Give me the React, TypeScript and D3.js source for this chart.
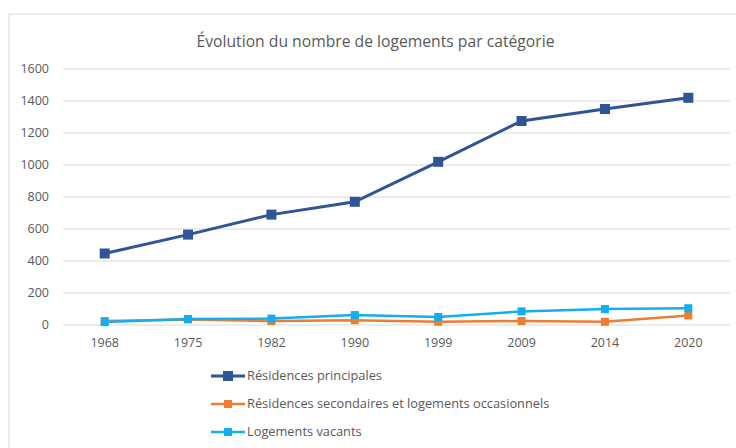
import React from "react";
import * as d3 from "d3";

const years = ["1968", "1975", "1982", "1990", "1999", "2009", "2014", "2020"];
const principales = [447, 565, 690, 770, 1020, 1275, 1350, 1420];
const secondaires = [25, 35, 25, 30, 20, 25, 20, 60];
const vacants = [18, 38, 40, 62, 50, 85, 100, 105];
const yTicks = [0, 200, 400, 600, 800, 1000, 1200, 1400, 1600];

const series = [
  { name: "Résidences principales", values: principales, color: "#2F5597", width: 3, marker: 10 },
  { name: "Résidences secondaires et logements occasionnels", values: secondaires, color: "#ED7D31", width: 2.5, marker: 8 },
  { name: "Logements vacants", values: vacants, color: "#12AEEF", width: 2.5, marker: 8 },
];

const W = 736,
  H = 448;
const font = "'Open Sans', 'Noto Sans', sans-serif";

export default function App() {
  const x = d3.scaleBand().domain(years).range([63, 730]);
  const y = d3.scaleLinear().domain([0, 1600]).range([325, 69]);
  const line = d3
    .line<number>()
    .x((_, i) => x(years[i])! + x.bandwidth() / 2)
    .y((d) => y(d));

  return (
    <svg
      width={W}
      height={H}
      style={{ position: "absolute", left: 0, top: 0, background: "#fff" }}
    >
      <rect x={9} y={14} width={760} height={460} fill="#fff" stroke="#D9D9D9" />
      <text
        x={375.5}
        y={47}
        textAnchor="middle"
        fontFamily={font}
        fontSize={15.7}
        fill="#595959"
      >
        Évolution du nombre de logements par catégorie
      </text>

      {yTicks.map((t) => (
        <g key={t}>
          <line x1={63} x2={730} y1={y(t)} y2={y(t)} stroke="#D9D9D9" strokeWidth={1} />
          <text
            x={49}
            y={y(t)}
            dy="0.35em"
            textAnchor="end"
            fontFamily={font}
            fontSize={12.5}
            fill="#595959"
          >
            {t}
          </text>
        </g>
      ))}

      {years.map((yr) => (
        <text
          key={yr}
          x={x(yr)! + x.bandwidth() / 2}
          y={343}
          dy="0.35em"
          textAnchor="middle"
          fontFamily={font}
          fontSize={12.5}
          fill="#595959"
        >
          {yr}
        </text>
      ))}

      {series.map((s) => (
        <g key={s.name}>
          <path d={line(s.values)!} fill="none" stroke={s.color} strokeWidth={s.width} />
          {s.values.map((v, i) => (
            <rect
              key={i}
              x={x(years[i])! + x.bandwidth() / 2 - s.marker / 2}
              y={y(v) - s.marker / 2}
              width={s.marker}
              height={s.marker}
              fill={s.color}
            />
          ))}
        </g>
      ))}

      {series.map((s, i) => {
        const ly = 376 + i * 28;
        return (
          <g key={s.name}>
            <line x1={211} x2={245} y1={ly} y2={ly} stroke={s.color} strokeWidth={s.width} />
            <rect x={228 - s.marker / 2} y={ly - s.marker / 2} width={s.marker} height={s.marker} fill={s.color} />
            <text
              x={247}
              y={ly}
              dy="0.35em"
              fontFamily={font}
              fontSize={12.8}
              fill="#595959"
            >
              {s.name}
            </text>
          </g>
        );
      })}
    </svg>
  );
}
